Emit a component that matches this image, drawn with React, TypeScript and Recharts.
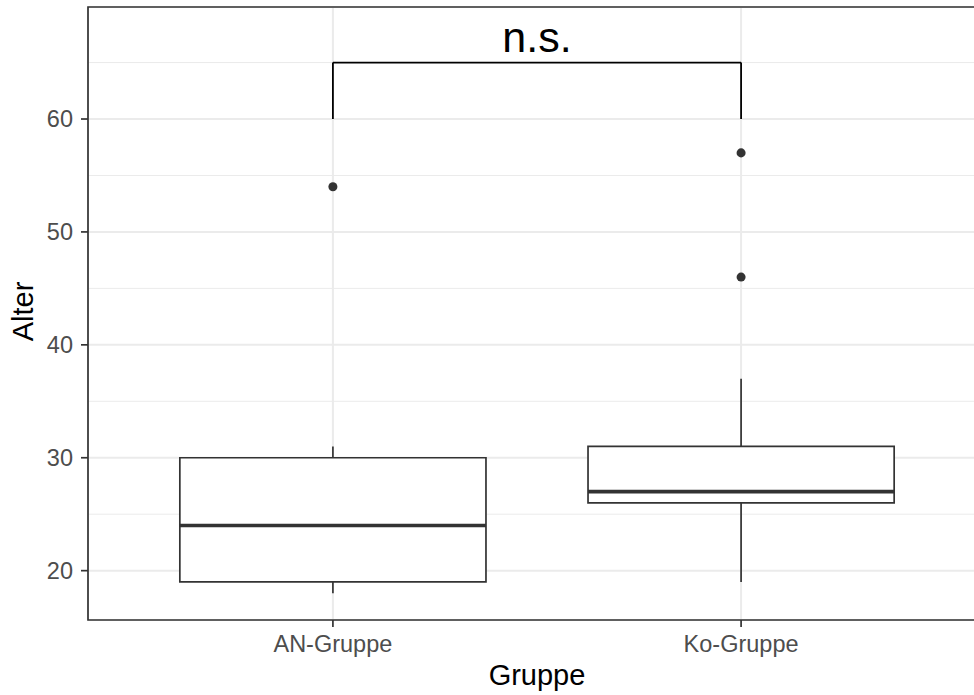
import React from 'react';
import {
  ComposedChart,
  Scatter,
  XAxis,
  YAxis,
  CartesianGrid,
  ReferenceArea,
  ReferenceLine,
  ReferenceDot,
} from 'recharts';

// box statistics per group (Alter)
const groups = ['AN-Gruppe', 'Ko-Gruppe'];
const groupPos = [1, 2];
const whiskerLow = [18, 19];
const q1 = [19, 26];
const median = [24, 27];
const q3 = [30, 31];
const whiskerHigh = [31, 37];
const outliers = [
  { x: 1, y: 54 },
  { x: 2, y: 57 },
  { x: 2, y: 46 },
];

// significance bracket
const bracketX = [1, 2];
const bracketTop = 65;
const bracketFoot = 60;
const signifLabel = 'n.s.';

const yTicks = [20, 30, 40, 50, 60];
const yMinor = [25, 35, 45, 55, 65];
const xDomain = [0.4, 2.6];
const yDomain = [15.63, 69.92];
const boxHalf = 0.375;

const ink = '#333333';

const YTitle = (props: any) => {
  const vb = props.viewBox;
  const cy = vb.y + vb.height / 2 - 2;
  return (
    <text x={33} y={cy} transform={`rotate(-90, 33, ${cy})`} textAnchor="middle" fontSize={29} fill="#000">
      Alter
    </text>
  );
};

const App: React.FC = () => {
  return (
    <div
      style={{
        position: 'fixed',
        left: 0,
        top: 0,
        width: 974,
        height: 695,
        overflow: 'hidden',
        background: '#fff',
        fontFamily: '"Liberation Sans", Arial, sans-serif',
      }}
    >
      <ComposedChart width={986} height={695} margin={{ top: 7, right: 0, bottom: 0, left: 0 }}>
        <CartesianGrid stroke="#ebebeb" strokeWidth={1} vertical={false} horizontalValues={yMinor} />
        <CartesianGrid stroke="#ebebeb" strokeWidth={2} />
        <XAxis
          type="number"
          dataKey="x"
          domain={xDomain}
          ticks={groupPos}
          allowDataOverflow
          tickFormatter={(v: number) => groups[v - 1]}
          height={75}
          tickSize={7}
          tickMargin={8}
          axisLine={false}
          tickLine={{ stroke: ink, strokeWidth: 1.7 }}
          tick={{ fill: '#4d4d4d', fontSize: 23.5 }}
          label={{ value: 'Gruppe', position: 'insideBottom', offset: 10, fontSize: 29, fill: '#000' }}
        />
        <YAxis
          type="number"
          dataKey="y"
          domain={yDomain}
          ticks={yTicks}
          allowDataOverflow
          width={88}
          tickSize={7}
          tickMargin={8}
          axisLine={false}
          tickLine={{ stroke: ink, strokeWidth: 1.7 }}
          tick={{ fill: '#4d4d4d', fontSize: 23.5 }}
          label={{ content: YTitle }}
        />

        {groupPos.map((g, i) => (
          <ReferenceArea
            key={`box-${g}`}
            x1={g - boxHalf}
            x2={g + boxHalf}
            y1={q1[i]}
            y2={q3[i]}
            fill="#fff"
            fillOpacity={1}
            stroke={ink}
            strokeWidth={1.7}
          />
        ))}
        {groupPos.map((g, i) => (
          <ReferenceLine
            key={`whisker-lo-${g}`}
            segment={[
              { x: g, y: whiskerLow[i] },
              { x: g, y: q1[i] },
            ]}
            stroke={ink}
            strokeWidth={1.7}
          />
        ))}
        {groupPos.map((g, i) => (
          <ReferenceLine
            key={`whisker-hi-${g}`}
            segment={[
              { x: g, y: q3[i] },
              { x: g, y: whiskerHigh[i] },
            ]}
            stroke={ink}
            strokeWidth={1.7}
          />
        ))}
        {groupPos.map((g, i) => (
          <ReferenceLine
            key={`median-${g}`}
            segment={[
              { x: g - boxHalf, y: median[i] },
              { x: g + boxHalf, y: median[i] },
            ]}
            stroke={ink}
            strokeWidth={3.6}
          />
        ))}

        <ReferenceLine
          segment={[
            { x: bracketX[0], y: bracketFoot },
            { x: bracketX[0], y: bracketTop },
          ]}
          stroke="#000"
          strokeWidth={1.8}
        />
        <ReferenceLine
          segment={[
            { x: bracketX[0], y: bracketTop },
            { x: bracketX[1], y: bracketTop },
          ]}
          stroke="#000"
          strokeWidth={1.8}
        />
        <ReferenceLine
          segment={[
            { x: bracketX[1], y: bracketTop },
            { x: bracketX[1], y: bracketFoot },
          ]}
          stroke="#000"
          strokeWidth={1.8}
        />
        <ReferenceDot
          x={(bracketX[0] + bracketX[1]) / 2}
          y={bracketTop}
          r={0}
          fill="none"
          stroke="none"
          label={{ value: signifLabel, position: 'top', offset: 10.5, fontSize: 43, fill: '#000' }}
        />

        <Scatter data={outliers} dataKey="y" fill={ink} isAnimationActive={false} />

        <ReferenceArea
          x1={xDomain[0]}
          x2={xDomain[1]}
          y1={yDomain[0]}
          y2={yDomain[1]}
          fill="none"
          stroke={ink}
          strokeWidth={1.7}
        />
      </ComposedChart>
    </div>
  );
};

export default App;
